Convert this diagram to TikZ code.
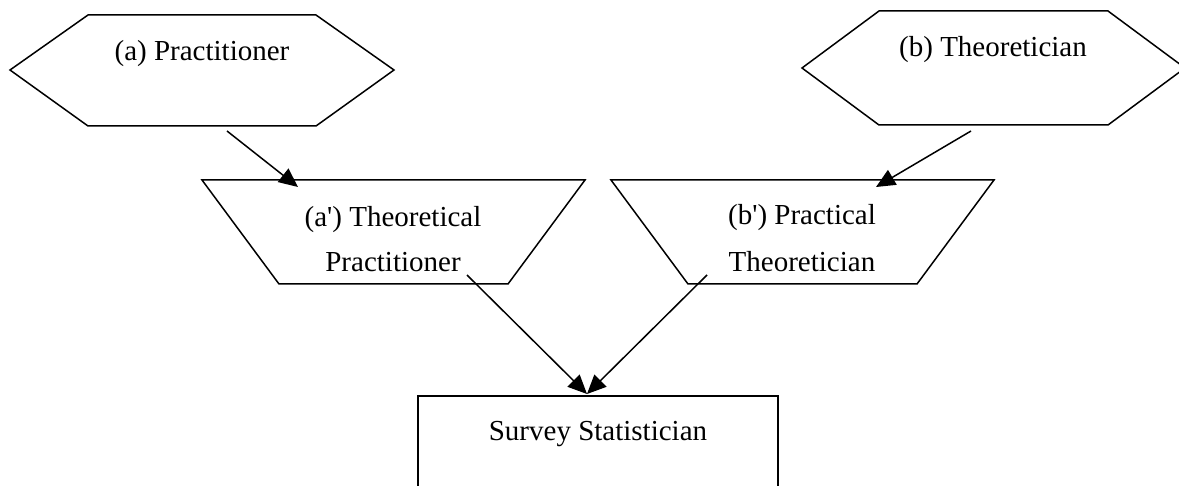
\documentclass[tikz,border=0pt]{standalone}
\usepackage{fontspec}
\setmainfont{Liberation Serif}
\usetikzlibrary{arrows.meta}
\begin{document}
\begin{tikzpicture}[x=1pt,y=-1pt,
  shapeline/.style={draw=black,line width=1.5pt,line join=miter,fill=white},
  label/.style={inner sep=0pt,anchor=base,font=\fontsize{29}{46}\selectfont},
  conn/.style={draw=black,line width=1.5pt,-{Triangle[length=19pt,width=17pt]}}]
\useasboundingbox (0,0) rectangle (1179,486);
\clip (0,0) rectangle (1179,486);
% hexagon (a)
\draw[shapeline] (10,70) -- (88,15) -- (316,15) -- (394,70) -- (316,126) -- (88,126) -- cycle;
\node[label] (pa) at (202,61) {(a) Practitioner};
% hexagon (b)
\draw[shapeline] (802,68) -- (879,11) -- (1108,11) -- (1185,68) -- (1108,125) -- (879,125) -- cycle;
\node[label] (pb) at (993,57) {(b) Theoretician};
% trapezoid (a')
\draw[shapeline] (202,180) -- (585,180) -- (508,284) -- (279,284) -- cycle;
\node[label] (tpa) at (393,227) {(a\textquotesingle) Theoretical};
\node[label] (tpb) at (393,272) {Practitioner};
% trapezoid (b')
\draw[shapeline] (611,180) -- (994,180) -- (917,284) -- (688,284) -- cycle;
\node[label] (ptb) at (802,225) {(b\textquotesingle) Practical};
\node[label] (pta) at (802,272) {Theoretician};
% rectangle
\draw[shapeline] (418,500) -- (418,396) -- (778,396) -- (778,500);
\node[label] (ss) at (598,440) {Survey Statistician};
% connector ends
\coordinate (a1) at (227,131);
\coordinate (a2) at (298,187);
\coordinate (b1) at (971,131);
\coordinate (b2) at (876,187);
\coordinate (c1) at (467,275);
\coordinate (d1) at (707,275);
\coordinate (s1) at (587,394);
\draw[conn] (a1) -- (a2);
\draw[conn] (b1) -- (b2);
\draw[conn] (c1) -- (s1);
\draw[conn] (d1) -- (s1);
\end{tikzpicture}
\end{document}
